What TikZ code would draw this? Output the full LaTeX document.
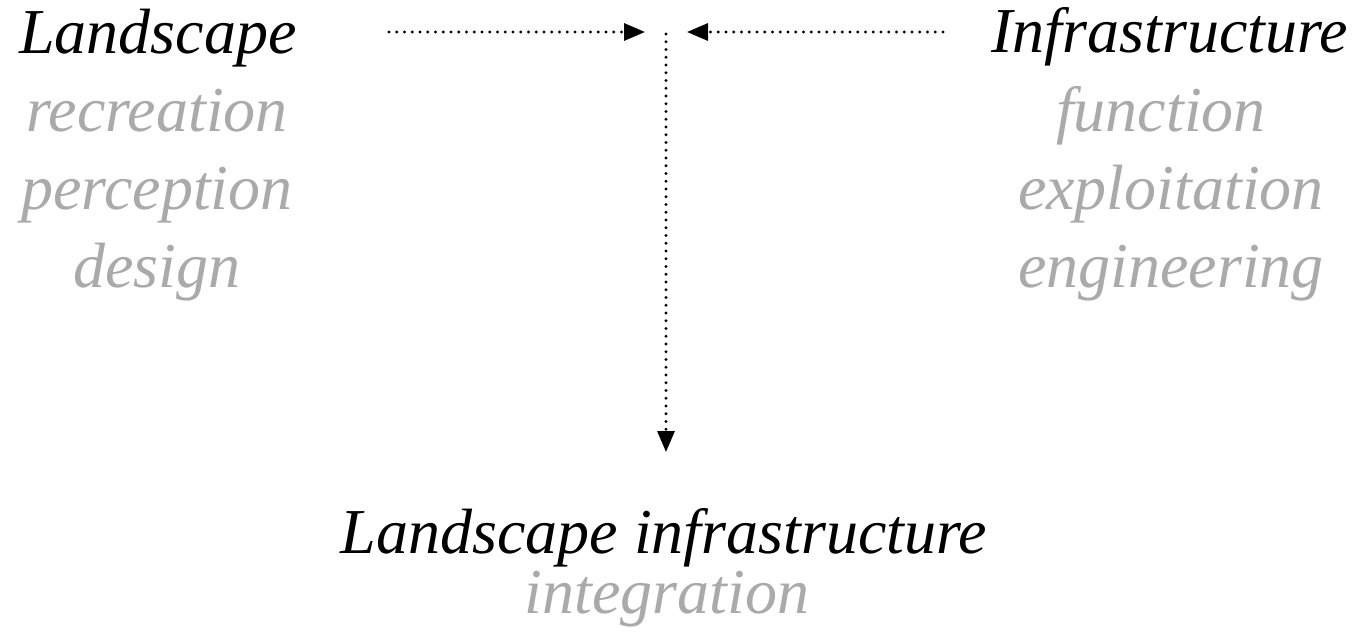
\documentclass[tikz,border=0pt]{standalone}
\usepackage{fontspec}
\setmainfont{Liberation Serif}
\usetikzlibrary{arrows.meta}
\definecolor{lightgr}{RGB}{170,170,170}
\tikzset{
  head/.style={font=\fontsize{64}{64}\selectfont\itshape, text=black, anchor=base, inner sep=0pt},
  sub/.style={font=\fontsize{64}{64}\selectfont\itshape, text=lightgr, anchor=base, inner sep=0pt},
  dotarrow/.style={line width=3.2pt, line cap=round, dash pattern=on 0pt off 7.75pt, -{Triangle[length=21pt,width=17pt,line cap=butt]}}
}
\begin{document}
\begin{tikzpicture}[x=1pt,y=-1pt]
\useasboundingbox (0,0) rectangle (1359,637);
\node[head] (land) at (158,53) {Landscape};
\node[sub] (rec) at (157,131) {recreation};
\node[sub] (per) at (157,209) {perception};
\node[sub] (des) at (157,287) {design};
\node[head] (infra) at (1170,52) {Infrastructure};
\node[sub] (fun) at (1161,131) {function};
\node[sub] (exp) at (1171,209) {exploitation};
\node[sub] (eng) at (1171,287) {engineering};
\node[head] (li) at (664,553) {Landscape infrastructure};
\node[sub] (int) at (667,613) {integration};
\coordinate (ls) at (389,32);
\coordinate (le) at (645,32);
\coordinate (rs) at (943,32);
\coordinate (re) at (687,32);
\coordinate (vs) at (666,34);
\coordinate (ve) at (666,452);
\draw[dotarrow] (ls) -- (le);
\draw[dotarrow] (rs) -- (re);
\draw[dotarrow] (vs) -- (ve);
\end{tikzpicture}
\end{document}
